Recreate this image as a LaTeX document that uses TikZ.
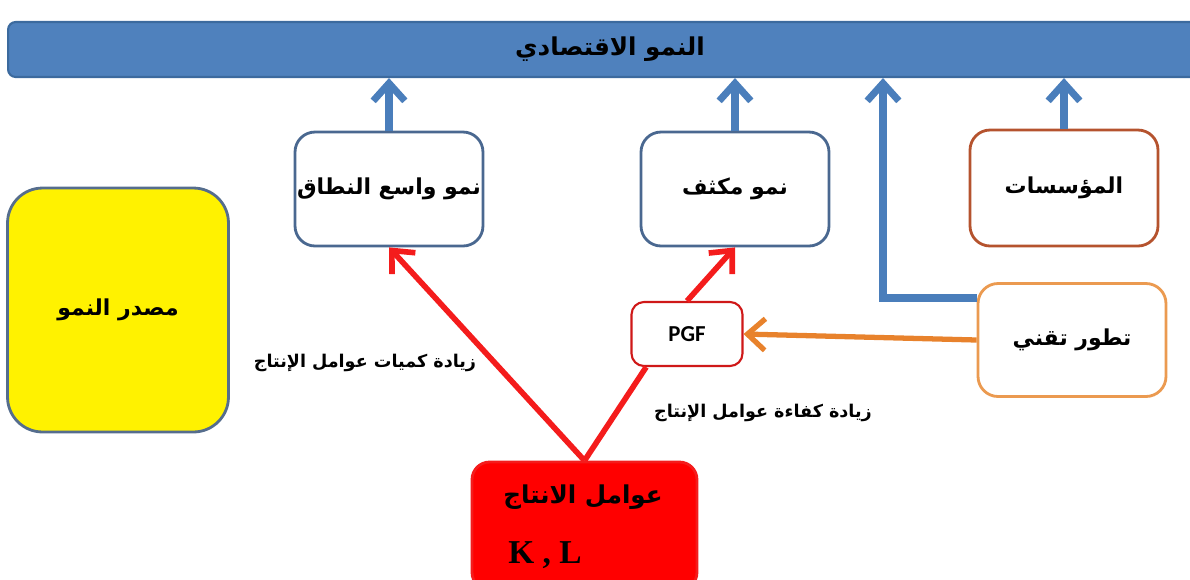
\documentclass[tikz,border=0pt]{standalone}
\usepackage{fontspec}
\newfontfamily\arabicfont[Script=Arabic]{DejaVu Sans}
\newfontfamily\pgffont{Carlito}
\newfontfamily\klfont{Liberation Serif}
\TeXXeTstate=1
\usetikzlibrary{arrows.meta}
\definecolor{barblue}{HTML}{4F81BD}
\definecolor{barline}{HTML}{3C6A9E}
\definecolor{boxline}{HTML}{4A6890}
\definecolor{instline}{HTML}{B5532E}
\definecolor{techline}{HTML}{EB9A50}
\definecolor{arrowblue}{HTML}{4A7EBB}
\definecolor{arroworange}{HTML}{E8822C}
\definecolor{arrowred}{HTML}{F41C1C}

\begin{document}
\begin{tikzpicture}[x=0.02cm, y=-0.02cm,
		box/.style={draw=boxline, line width=1.6pt, fill=white, rounded corners=0.4cm, minimum width=3.76cm, minimum height=2.28cm, inner sep=0pt},
		ar/.style={font=\arabicfont\bfseries\fontsize{12.5}{15}\selectfont},
		bluearr/.style={draw=arrowblue, line width=4pt, -{Straight Barb[length=10pt,width=18pt]}},
		redarr/.style={draw=arrowred, line width=3.2pt, -{Straight Barb[length=10pt,width=18pt]}},
		orangearr/.style={draw=arroworange, line width=3pt, -{Straight Barb[length=10pt,width=18pt]}}]
		\useasboundingbox (0, 0) rectangle (1190, 579);

		\node [draw=barline, line width=1.2pt, fill=barblue, rounded corners=0.15cm, minimum width=24.08cm, minimum height=1.1cm, ar, font=\arabicfont\bfseries\fontsize{14}{17}\selectfont] (bar) at (610, 49.5) {\beginR النمو الاقتصادي\endR};

		\node [box, ar] (wide) at (389, 189) {\beginR نمو واسع النطاق\endR};
		\node [box, ar] (intens) at (735, 189) {\beginR نمو مكثف\endR};
		\node [box, ar, draw=instline, minimum height=2.32cm] (inst) at (1064, 188) {\beginR المؤسسات\endR};
		\node [box, ar, draw=techline, minimum height=2.26cm] (tech) at (1072, 340) {\beginR تطور تقني\endR};
		\node [box, ar, draw=boxline!80!gray, fill=yellow, rounded corners=0.7cm, minimum width=4.42cm, minimum height=4.88cm] (source) at (118, 310) {\beginR مصدر النمو\endR};
		\node [box, draw=arrowred!85!black, line width=1.2pt, rounded corners=0.25cm, minimum width=2.22cm, minimum height=1.28cm, font=\pgffont\bfseries\fontsize{13}{15}\selectfont] (pgf) at (687, 334) {PGF};
		\node [box, draw=arrowred, fill=red, rounded corners=0.35cm, minimum width=4.5cm, minimum height=2.56cm] (factors) at (584.5, 526) {};

		\node [ar, font=\arabicfont\bfseries\fontsize{14}{17}\selectfont] (factorsname) at (583, 497) {\beginR عوامل الانتاج\endR};
		\node [font=\klfont\bfseries\fontsize{19}{22}\selectfont] (factorskl) at (545, 555) {K , L};
		\node [ar, font=\arabicfont\bfseries\fontsize{10}{12}\selectfont] (quantity) at (365, 363) {\beginR زيادة كميات عوامل الإنتاج\endR};
		\node [ar, font=\arabicfont\bfseries\fontsize{10}{12}\selectfont] (efficiency) at (763, 413) {\beginR زيادة كفاءة عوامل الإنتاج\endR};

		\coordinate (bend) at (883, 298);

		\draw [bluearr] (wide.north) -- (wide.north |- bar.south);
		\draw [bluearr] (intens.north) -- (intens.north |- bar.south);
		\draw [bluearr] (inst.north) -- (inst.north |- bar.south);
		\draw [bluearr] (tech.west |- bend) -- (bend) -- (bend |- bar.south);

		\draw [orangearr] (tech.west) -- (pgf.east);

		\draw [redarr] (factors.north) -- (wide.south);
		\draw [draw=arrowred, line width=3.2pt] (factors.north) -- (pgf.219);
		\draw [redarr] (pgf.north) -- (intens.south);
	\end{tikzpicture}
\end{document}
